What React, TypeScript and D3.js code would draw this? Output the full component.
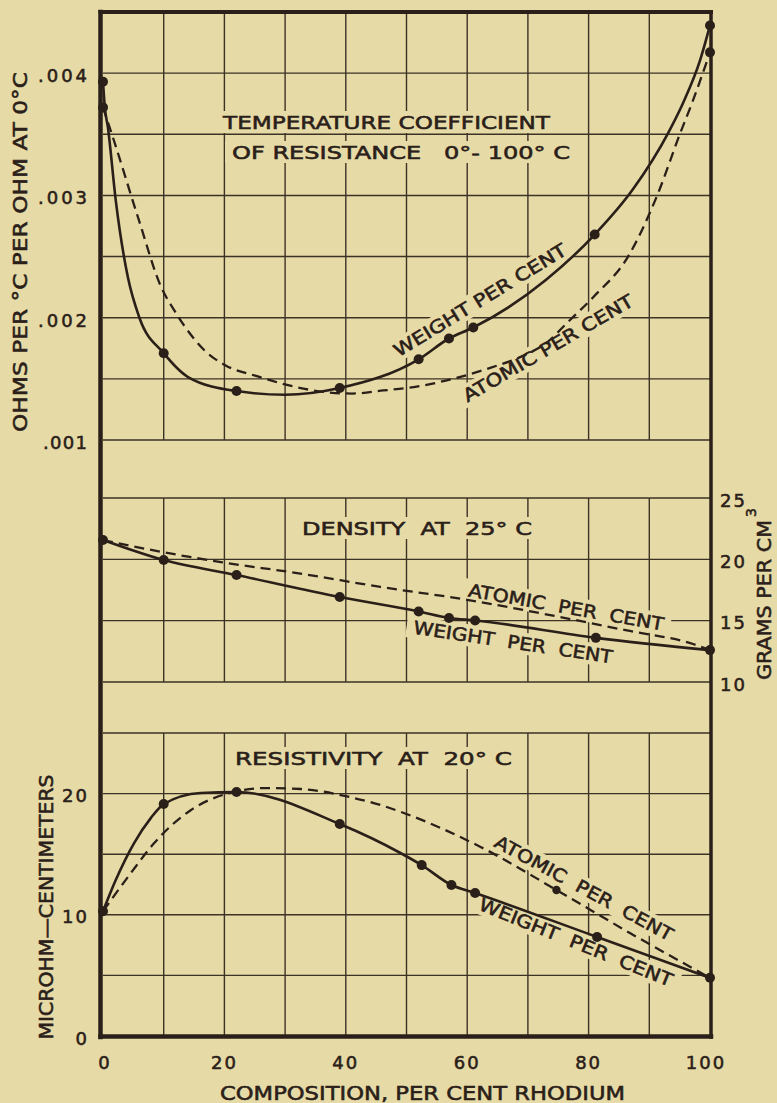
import React from 'react';
import * as d3 from 'd3';

// ---------- data ----------
const compositionTicks = [0, 20, 40, 60, 80, 100];
const compositionGrid = [10, 20, 30, 40, 50, 60, 70, 80, 90];

const tcrTicks = [0.001, 0.002, 0.003, 0.004];
const tcrTickLabels = ['.001', '.002', '.003', '.004'];
const tcrGrid = [0.0015, 0.002, 0.0025, 0.003, 0.0035, 0.004];

const densityTicks = [10, 15, 20, 25];

const resistivityTicks = [0, 10, 20];
const resistivityGrid = [5, 10, 15, 20];

// Temperature coefficient, weight per cent (markers + traced curve)
const tcrWeightMarkers: [number, number][] = [
  [0, 0.00393], [0, 0.00372], [10, 0.00171], [22, 0.0014], [39, 0.001425],
  [52, 0.00166], [57, 0.00183], [61, 0.00192], [81, 0.00268], [100, 0.00439], [100, 0.00417],
];
const tcrWeightCurve: [number, number][] = [
  [0, 0.00393], [0.3, 0.00372], [0.8, 0.00356], [2.1, 0.00296], [4.1, 0.00233], [6, 0.002],
  [10, 0.00171], [14, 0.001515], [22, 0.0014], [30, 0.00137], [39, 0.001425], [52, 0.00166],
  [57, 0.00183], [61, 0.00192], [73, 0.00231], [81, 0.00268], [87.3, 0.00305], [93.1, 0.00351],
  [95.6, 0.00376], [98.4, 0.00411], [100, 0.00439],
];
const tcrAtomicCurve: [number, number][] = [
  [0, 0.00372], [1.6, 0.00348], [5.9, 0.0028], [9.5, 0.00226], [12, 0.00204], [14.8, 0.00184],
  [17, 0.00172], [20.2, 0.00161], [25.5, 0.00152], [31, 0.001442], [37, 0.00139], [41, 0.00138],
  [46.2, 0.001405], [51.2, 0.001433], [58.4, 0.00151], [63.8, 0.00159], [68.8, 0.00168],
  [73.2, 0.0018], [76.5, 0.00196], [80.8, 0.00217], [86.5, 0.0025], [91.3, 0.003],
  [95.1, 0.00351], [97, 0.00375], [98.6, 0.00397], [100, 0.00417],
];

// Density at 25 C
const densityWeightMarkers: [number, number][] = [
  [0, 21.57], [10, 19.94], [22, 18.72], [39, 16.93], [52, 15.75], [57, 15.22], [61.3, 15.02],
  [81.2, 13.6], [100, 12.6],
];
const densityAtomicCurve: [number, number][] = [
  [0, 21.57], [7.6, 20.8], [19.7, 19.75], [31.7, 18.9], [45.7, 17.75], [60, 16.7],
  [73.2, 15.5], [86.3, 14.2], [97.2, 13.1], [100, 12.6],
];

// Resistivity at 20 C
const resistivityWeightMarkers: [number, number][] = [
  [0, 10.3], [10, 19.14], [22, 20.13], [39, 17.49], [52.5, 14.1], [57.4, 12.46], [61.3, 11.8],
  [81.4, 8.17], [100, 4.8],
];
const resistivityWeightCurve: [number, number][] = [
  [0, 10.3], [2.1, 12.87], [5.1, 15.9], [7.9, 18.0], [10, 19.14], [16.1, 20.05], [22, 20.13],
  [39, 17.49], [49, 15.1], [52.5, 14.1], [57.4, 12.46], [61.3, 11.8], [81.4, 8.17], [100, 4.8],
];
const resistivityAtomicMarkers: [number, number][] = [[74.7, 12.05]];
const resistivityAtomicCurve: [number, number][] = [
  [0, 10.3], [4.6, 13.45], [8.4, 15.9], [14.5, 18.65], [20.5, 20.0], [27, 20.46], [32.6, 20.38],
  [40.8, 19.7], [45.7, 19.06], [49, 18.5], [62.2, 15.6], [74.7, 12.05], [86.8, 8.5], [100, 4.8],
];

// ---------- styling ----------
const BG = '#e6daa6';
const INK = '#2a2019';
const FONT = '"DejaVu Sans", Verdana, sans-serif';

type Lbl = { text: string; x: number; y: number; angle?: number; len: number };

export default function App() {
  const x = d3.scaleLinear().domain([0, 100]).range([103, 710]);
  const yT = d3.scaleLinear().domain([0.001, 0.0045]).range([440, 12]);
  const yD = d3.scaleLinear().domain([10, 25]).range([682, 498]);
  const yR = d3.scaleLinear().domain([0, 25]).range([1036, 733]);

  const mk = (ys: d3.ScaleLinear<number, number>) =>
    d3.line<[number, number]>().x((d) => x(d[0])).y((d) => ys(d[1])).curve(d3.curveMonotoneX);

  const lineT = mk(yT);
  const lineD = mk(yD);
  const lineR = mk(yR);

  const labels: Lbl[] = [
    { text: 'TEMPERATURE COEFFICIENT', x: 386.5, y: 122, len: 327 },
    { text: 'OF RESISTANCE   0°- 100° C', x: 401, y: 152, len: 338 },
    { text: 'DENSITY  AT  25° C', x: 417, y: 528, len: 230 },
    { text: 'RESISTIVITY  AT  20° C', x: 373.5, y: 758, len: 277 },
    { text: 'WEIGHT PER CENT', x: 480, y: 300, angle: -31.5, len: 199 },
    { text: 'ATOMIC PER CENT', x: 548, y: 348, angle: -30.3, len: 194 },
    { text: 'ATOMIC  PER  CENT', x: 566, y: 607, angle: 10, len: 198 },
    { text: 'WEIGHT  PER  CENT', x: 513, y: 642, angle: 8.5, len: 201 },
    { text: 'ATOMIC  PER  CENT', x: 584, y: 888, angle: 28.5, len: 200 },
    { text: 'WEIGHT  PER  CENT', x: 576, y: 942, angle: 22, len: 207 },
  ];

  const tr = (l: Lbl) => `translate(${l.x},${l.y}) rotate(${l.angle || 0})`;

  const panels = [
    { top: yT.range()[1], bottom: yT.range()[0] },
    { top: yD.range()[1], bottom: yD.range()[0] },
    { top: yR.range()[1], bottom: yR.range()[0] },
  ];

  const hLines: number[] = [
    ...tcrGrid.map((v) => yT(v)),
    yT(0.001),
    ...densityTicks.map((v) => yD(v)),
    yR(25),
    ...resistivityGrid.map((v) => yR(v)),
  ];

  return (
    <svg
      width={777}
      height={1103}
      style={{ position: 'absolute', left: 0, top: 0, display: 'block' }}
      fontFamily={FONT}
    >
      <rect x={0} y={0} width={777} height={1103} fill={BG} />

      {/* grid */}
      <g stroke={INK} strokeWidth={1.4} opacity={0.9}>
        {panels.map((p, i) =>
          compositionGrid.map((c) => (
            <line key={`v${i}-${c}`} x1={x(c)} x2={x(c)} y1={p.top} y2={p.bottom} />
          ))
        )}
        {hLines.map((yy, i) => (
          <line key={`h${i}`} x1={x(0)} x2={x(100)} y1={yy} y2={yy} />
        ))}
      </g>

      {/* knockouts behind labels */}
      <g fill={BG}>
        {labels.map((l, i) => (
          <rect key={`k${i}`} transform={tr(l)} x={-l.len / 2 - 7} y={-11} width={l.len + 14} height={22} />
        ))}
      </g>

      {/* curves */}
      <g fill="none" stroke={INK} strokeLinecap="round" strokeLinejoin="round">
        <path d={lineT(tcrWeightCurve) || ''} strokeWidth={2.6} />
        <path d={lineT(tcrAtomicCurve) || ''} strokeWidth={2.3} strokeDasharray="10 6" strokeLinecap="butt" />
        <path d={lineD(densityWeightMarkers) || ''} strokeWidth={2.6} />
        <path d={lineD(densityAtomicCurve) || ''} strokeWidth={2.3} strokeDasharray="10 6" strokeLinecap="butt" />
        <path d={lineR(resistivityWeightCurve) || ''} strokeWidth={2.6} />
        <path d={lineR(resistivityAtomicCurve) || ''} strokeWidth={2.3} strokeDasharray="10 6" strokeLinecap="butt" />
      </g>

      {/* markers */}
      <g fill={INK}>
        {tcrWeightMarkers.map((d, i) => (
          <circle key={`mt${i}`} cx={x(d[0])} cy={yT(d[1])} r={5} />
        ))}
        {densityWeightMarkers.map((d, i) => (
          <circle key={`md${i}`} cx={x(d[0])} cy={yD(d[1])} r={5} />
        ))}
        {resistivityWeightMarkers.map((d, i) => (
          <circle key={`mr${i}`} cx={x(d[0])} cy={yR(d[1])} r={5} />
        ))}
        {resistivityAtomicMarkers.map((d, i) => (
          <circle key={`ma${i}`} cx={x(d[0])} cy={yR(d[1])} r={4.2} />
        ))}
      </g>

      {/* frame */}
      <g stroke={INK} fill="none" strokeLinecap="square">
        <line x1={100.5} x2={100.5} y1={12} y2={1037} strokeWidth={4.5} />
        <line x1={711} x2={711} y1={12} y2={1037} strokeWidth={3.5} />
        <line x1={100.5} x2={711} y1={12} y2={12} strokeWidth={4} />
        <line x1={100.5} x2={711} y1={1036.5} y2={1036.5} strokeWidth={4.5} />
      </g>

      {/* labels */}
      <g fill={INK} stroke={INK} strokeWidth={0.55} fontSize={18}>
        {labels.map((l, i) => (
          <text
            key={`t${i}`}
            transform={tr(l)}
            textAnchor="middle"
            y={6.5}
            textLength={l.len}
            lengthAdjust="spacingAndGlyphs"
            style={{ whiteSpace: 'pre' }}
          >
            {l.text}
          </text>
        ))}

        {tcrTicks.map((v, i) => (
          <text key={`lt${i}`} x={87} y={yT(v) + 9} textAnchor="end" textLength={i === 0 ? 44 : 49} lengthAdjust="spacing">
            {tcrTickLabels[i]}
          </text>
        ))}

        {densityTicks.map((v) => (
          <text key={`rd${v}`} x={720} y={yD(v) + 8.5} textLength={25} lengthAdjust="spacing">
            {v}
          </text>
        ))}

        {resistivityTicks.map((v) => (
          <text key={`rr${v}`} x={89} y={yR(v) + 8.5} textAnchor="end" letterSpacing={2}>
            {v}
          </text>
        ))}

        {compositionTicks.map((v) => (
          <text key={`b${v}`} x={x(v) + (v === 0 ? 2 : v === 100 ? -4 : 0)} y={1068.5} textAnchor="middle" letterSpacing={2}>
            {v}
          </text>
        ))}

        <text x={422.5} y={1100} textAnchor="middle" textLength={405} lengthAdjust="spacingAndGlyphs" fontSize={19}>
          COMPOSITION, PER CENT RHODIUM
        </text>

        <text transform="translate(27,252) rotate(-90)" textAnchor="middle" textLength={360} lengthAdjust="spacingAndGlyphs" fontSize={19}>
          OHMS PER °C PER OHM AT 0°C
        </text>

        <text transform="translate(52.5,907) rotate(-90)" textAnchor="middle" textLength={265} lengthAdjust="spacingAndGlyphs" fontSize={19}>
          MICROHM—CENTIMETERS
        </text>

        <g transform="translate(771,680) rotate(-90)">
          <text x={0} y={0} textLength={160} lengthAdjust="spacingAndGlyphs" fontSize={19}>
            GRAMS PER CM
          </text>
          <text x={163} y={-15} fontSize={14}>
            3
          </text>
        </g>
      </g>
    </svg>
  );
}
